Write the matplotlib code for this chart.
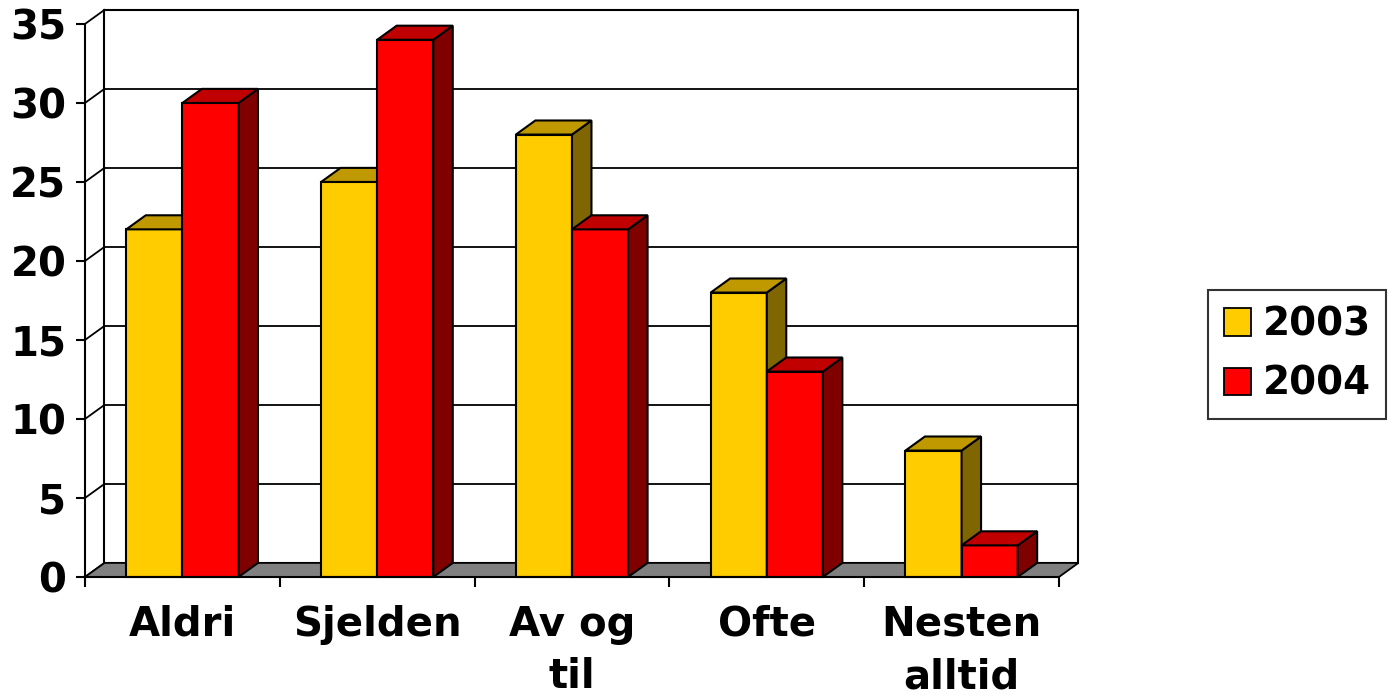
import matplotlib.pyplot as plt
from matplotlib.patches import Polygon, Patch
import numpy as np

categories = ['Aldri', 'Sjelden', 'Av og\ntil', 'Ofte', 'Nesten\nalltid']
series = ['2003', '2004']
values_2003 = [22, 25, 28, 18, 8]
values_2004 = [30, 34, 22, 13, 2]
yticks = [0, 5, 10, 15, 20, 25, 30, 35]

front = ['#FFCC00', '#FF0000']
top = ['#C09900', '#C00000']
side = ['#806600', '#800000']

dx, dy = 0.1, 0.89   # depth of the fake 3d box
w = 0.288            # bar width
lw = 1.5

plt.rcParams['font.family'] = 'DejaVu Sans'
plt.rcParams['font.weight'] = 'bold'

fig = plt.figure(figsize=(13.89, 6.98), dpi=100)
ax = fig.add_axes([0.0612, 0.1734, 0.7012, 0.7923])
ax.set_xlim(-0.5, 4.5)
ax.set_ylim(0, 35)
ax.patch.set_visible(False)

# back wall
x0, x1 = -0.5, 4.5
ax.add_patch(Polygon([(x0+dx, dy), (x1+dx, dy), (x1+dx, 35+dy), (x0+dx, 35+dy)],
                     closed=True, facecolor='white', edgecolor='black', lw=lw,
                     clip_on=False, zorder=0.5))
for v in yticks:
    ax.plot([x0+dx, x1+dx], [v+dy, v+dy], color='black', lw=1.3, clip_on=False, zorder=0.6)
    ax.plot([x0, x0+dx], [v, v+dy], color='black', lw=1.3, clip_on=False, zorder=0.6)

# floor
ax.add_patch(Polygon([(x0, 0), (x1, 0), (x1+dx, dy), (x0+dx, dy)],
                     closed=True, facecolor='#808080', edgecolor='black', lw=1.3,
                     clip_on=False, zorder=1))

z = 3
for i in range(len(categories)):
    for s, vals in enumerate([values_2003, values_2004]):
        h = vals[i]
        xl = i - w + s * w
        ax.bar(xl, h, width=w, align='edge', color=front[s], edgecolor='black',
               lw=lw, zorder=z, clip_on=False)
        ax.add_patch(Polygon([(xl+w, 0), (xl+w+dx, dy), (xl+w+dx, h+dy), (xl+w, h)],
                             closed=True, facecolor=side[s], edgecolor='black',
                             lw=lw, zorder=z, clip_on=False))
        ax.add_patch(Polygon([(xl, h), (xl+w, h), (xl+w+dx, h+dy), (xl+dx, h+dy)],
                             closed=True, facecolor=top[s], edgecolor='black',
                             lw=lw, zorder=z, clip_on=False))
        z += 1

for sp in ['top', 'right']:
    ax.spines[sp].set_visible(False)
for sp in ['left', 'bottom']:
    ax.spines[sp].set_linewidth(lw)
    ax.spines[sp].set_zorder(20)

ax.set_yticks(yticks)
ax.tick_params(axis='y', length=6.5, width=lw, pad=7, labelsize=29)

ax.set_xticks(np.arange(-0.5, 5, 1))
ax.set_xticklabels([])
ax.tick_params(axis='x', which='major', length=7, width=lw)
ax.set_xticks(range(len(categories)), categories, minor=True)
ax.tick_params(axis='x', which='minor', length=0, pad=20, labelsize=29)
for lbl in ax.get_xticklabels(minor=True):
    lbl.set_linespacing(1.4)

handles = [Patch(facecolor=front[k], edgecolor='black', lw=1.3, label=series[k]) for k in range(2)]
leg = fig.legend(handles=handles, loc='upper left', bbox_to_anchor=(1208/1389, 1-290/698),
                 fontsize=28, frameon=True, fancybox=False, edgecolor='black',
                 handlelength=0.7, handleheight=0.7, handletextpad=0.3,
                 borderpad=0.4, labelspacing=0.55, borderaxespad=0)
leg.get_frame().set_linewidth(lw)

fig.savefig('out.png', dpi=100)
